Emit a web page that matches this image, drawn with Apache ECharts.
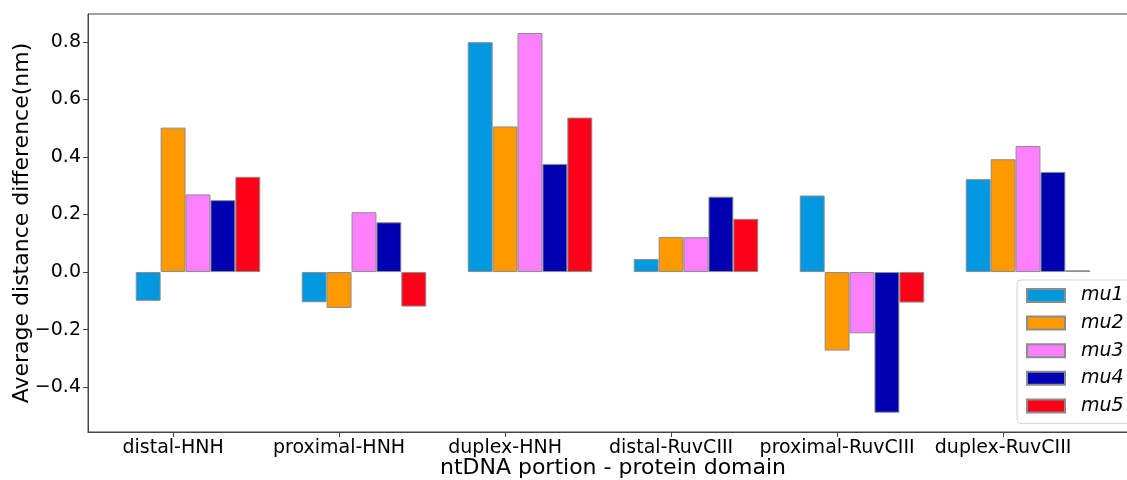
<!DOCTYPE html>
<html>
<head>
<meta charset="utf-8">
<script src="https://cdn.jsdelivr.net/npm/echarts@6/dist/echarts.min.js"></script>
<style>
  html, body { margin: 0; padding: 0; background: #fff; }
  #chart { width: 1127px; height: 480px; }
</style>
</head>
<body>
<div id="chart"></div>
<script>
// groups on the x axis
const categories = ["distal-HNH", "proximal-HNH", "duplex-HNH", "distal-RuvCIII", "proximal-RuvCIII", "duplex-RuvCIII"]
const seriesNames = ["mu1", "mu2", "mu3", "mu4", "mu5"]
const colors = ["#0099e0", "#ff9900", "#ff80ff", "#0000b3", "#ff0019"]

// values (nm)
const mu1 = [-0.100, -0.105, 0.799, 0.045, 0.266, 0.323]
const mu2 = [0.502, -0.125, 0.506, 0.122, -0.273, 0.392]
const mu3 = [0.270, 0.208, 0.831, 0.121, -0.213, 0.438]
const mu4 = [0.250, 0.173, 0.376, 0.262, -0.489, 0.348]
const mu5 = [0.331, -0.120, 0.537, 0.185, -0.106, 0.006]

const yTicks = [-0.4, -0.2, 0.0, 0.2, 0.4, 0.6, 0.8]
const xTicks = [0, 1, 2, 3, 4, 5]

// bar width in category units, and each series' shift from the tick
const barW = 0.15
const shifts = [-0.15, 0, 0.15, 0.3, 0.45]

const xMin = -0.5125, xMax = 5.8125
const gridLeft = 88, gridRight = -11, gridTop = 14, gridBottom = 48
const font = "DejaVu Sans"

const chart = echarts.init(document.getElementById("chart"), null, { renderer: "canvas" })
const gridWidth = 1127 - gridLeft - gridRight
const barPx = gridWidth / (xMax - xMin) * barW

const allValues = [mu1, mu2, mu3, mu4, mu5]
const series = allValues.map((vals, j) => ({
    name: seriesNames[j],
    type: "bar",
    barWidth: barPx,
    barGap: "-100%",
    itemStyle: { color: colors[j], borderColor: "#8c8c8c", borderWidth: 1 },
    data: vals.map((v, i) => [i + shifts[j], v])
}))

chart.setOption({
    animation: false,
    backgroundColor: "#fff",
    textStyle: { fontFamily: font },
    grid: {
        left: gridLeft, right: gridRight, top: gridTop, bottom: gridBottom,
        containLabel: false, outerBoundsMode: "none",
        show: true, borderColor: "#444", borderWidth: 1
    },
    legend: {
        orient: "vertical",
        left: 1017, top: 280,
        padding: [6, 40, 8, 9],
        itemWidth: 38, itemHeight: 13,
        itemGap: 8.6,
        icon: "rect",
        backgroundColor: "#fff",
        borderColor: "#d5d5d5", borderWidth: 1, borderRadius: 4,
        textStyle: { fontFamily: font, fontSize: 19, fontStyle: "italic", color: "#000", padding: [0, 0, 0, 11] },
        data: seriesNames
    },
    xAxis: {
        type: "value",
        min: xMin, max: xMax,
        name: "ntDNA portion - protein domain",
        nameLocation: "middle",
        nameGap: 25,
        nameMoveOverlap: false,
        nameTextStyle: { fontFamily: font, fontSize: 22, color: "#000" },
        axisLine: { onZero: false, lineStyle: { color: "#444", width: 1 } },
        axisTick: { show: true, length: 5, customValues: xTicks, lineStyle: { color: "#444" } },
        axisLabel: {
            customValues: xTicks,
            fontFamily: font, fontSize: 19, color: "#000", margin: 7,
            formatter: v => categories[Math.round(v)]
        },
        splitLine: { show: false }
    },
    yAxis: {
        type: "value",
        min: -0.556, max: 0.897,
        name: "Average distance difference(nm)",
        nameLocation: "middle",
        nameGap: 55,
        nameMoveOverlap: false,
        nameTextStyle: { fontFamily: font, fontSize: 22, color: "#000" },
        axisLine: { show: true, onZero: false, lineStyle: { color: "#444", width: 1 } },
        axisTick: { show: true, length: 5, customValues: yTicks, lineStyle: { color: "#444" } },
        axisLabel: {
            customValues: yTicks,
            fontFamily: font, fontSize: 19, color: "#000", margin: 7,
            formatter: v => v.toFixed(1).replace("-", "\u2212")
        },
        splitLine: { show: false }
    },
    series: series
})
</script>
</body>
</html>
